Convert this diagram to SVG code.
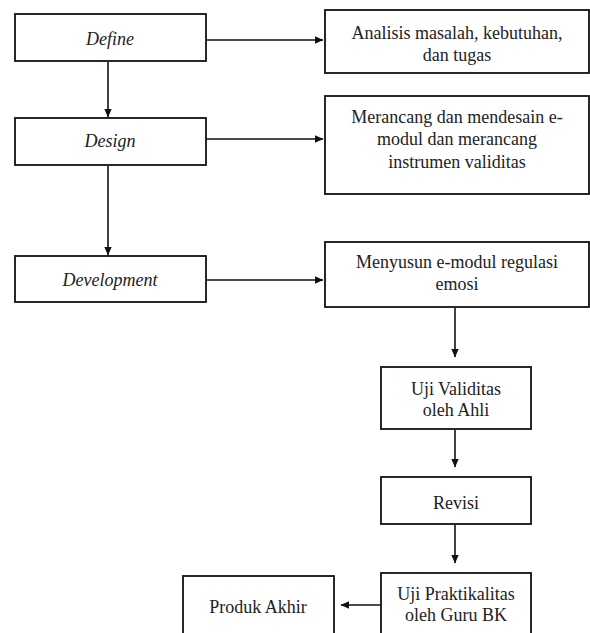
<svg xmlns="http://www.w3.org/2000/svg" width="590" height="633" viewBox="0 0 590 633">
<style>
.b{fill:#fff;stroke:#111;stroke-width:1.8}
text{font-family:'Liberation Serif','Times New Roman',serif;font-size:18px;fill:#222;text-anchor:middle}
.i{font-style:italic}
.c line{stroke:#111;stroke-width:1.6}
</style>
<defs>
<marker id="a" markerWidth="9" markerHeight="9" refX="8" refY="4.5" orient="auto" markerUnits="userSpaceOnUse">
<path d="M0,0.8 L8.5,4.5 L0,8.2 Z" fill="#111"/>
</marker>
</defs>
<rect x="0" y="0" width="590" height="633" fill="#fff"/>
<g class="c">
<line x1="108" y1="62" x2="108" y2="117" marker-end="url(#a)"/>
<line x1="108" y1="166" x2="108" y2="255" marker-end="url(#a)"/>
<line x1="206" y1="40" x2="323" y2="40" marker-end="url(#a)"/>
<line x1="206" y1="139" x2="323" y2="139" marker-end="url(#a)"/>
<line x1="206" y1="280" x2="323" y2="280" marker-end="url(#a)"/>
<line x1="455" y1="308" x2="455" y2="357" marker-end="url(#a)"/>
<line x1="455" y1="430" x2="455" y2="467" marker-end="url(#a)"/>
<line x1="455" y1="525" x2="455" y2="563" marker-end="url(#a)"/>
<line x1="381" y1="605" x2="341" y2="605" marker-end="url(#a)"/>
</g>
<g id="define"><rect class="b" x="15" y="14" width="191" height="47"/><text class="i" x="110" y="45">Define</text></g>
<g id="design"><rect class="b" x="15" y="118" width="191" height="47"/><text class="i" x="110" y="147">Design</text></g>
<g id="development"><rect class="b" x="15" y="256" width="191" height="46"/><text class="i" x="110" y="286">Development</text></g>
<g id="analisis"><rect class="b" x="325" y="10" width="264" height="63"/><text x="457" y="39">Analisis masalah, kebutuhan,</text><text x="457" y="61">dan tugas</text></g>
<g id="merancang"><rect class="b" x="325" y="96" width="264" height="98"/><text x="457" y="123">Merancang dan mendesain e-</text><text x="457" y="145">modul dan merancang</text><text x="457" y="168">instrumen validitas</text></g>
<g id="menyusun"><rect class="b" x="325" y="242" width="264" height="65"/><text x="457" y="268">Menyusun e-modul regulasi</text><text x="457" y="290">emosi</text></g>
<g id="uji-validitas"><rect class="b" x="381" y="367" width="150" height="62"/><text x="456" y="395">Uji Validitas</text><text x="456" y="416">oleh Ahli</text></g>
<g id="revisi"><rect class="b" x="381" y="477" width="150" height="47"/><text x="456" y="509">Revisi</text></g>
<g id="uji-praktikalitas"><rect class="b" x="381" y="573" width="150" height="70"/><text x="456" y="600">Uji Praktikalitas</text><text x="456" y="621">oleh Guru BK</text></g>
<g id="produk"><rect class="b" x="183" y="576" width="151" height="67"/><text x="258" y="613">Produk Akhir</text></g>
</svg>
